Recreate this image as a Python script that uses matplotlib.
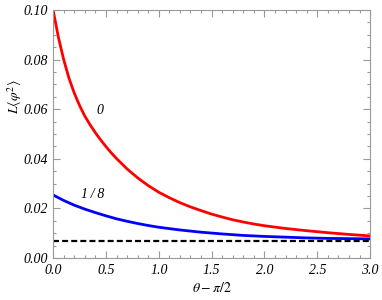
import numpy as np
import matplotlib
matplotlib.use("Agg")
import matplotlib.pyplot as plt
from matplotlib.ticker import MultipleLocator

plt.rcParams['mathtext.fontset'] = 'stix'
plt.rcParams['font.family'] = ['Liberation Serif', 'DejaVu Serif']

# curve for 0
x_red = [0.0, 0.05, 0.1, 0.15, 0.2, 0.25, 0.3, 0.35, 0.4, 0.45, 0.5, 0.55, 0.6, 0.7, 0.8, 0.9,
         1.0, 1.1, 1.2, 1.3, 1.4, 1.5, 1.6, 1.7, 1.8, 1.9, 2.0, 2.2, 2.4, 2.6, 2.8, 3.0]
y_red = [0.1000, 0.0890, 0.0800, 0.0725, 0.0665, 0.0615, 0.0572, 0.0537, 0.0505, 0.0476,
         0.0449, 0.0424, 0.0401, 0.0359, 0.0323, 0.0292, 0.0265, 0.0243, 0.0223, 0.0206,
         0.0191, 0.0177, 0.0165, 0.0154, 0.0145, 0.0137, 0.0130, 0.0119, 0.0110, 0.0102,
         0.0095, 0.0089]

# curve for 1/8
x_blue = [0.0, 0.1, 0.2, 0.3, 0.4, 0.5, 0.6, 0.7, 0.8, 0.9, 1.0, 1.2, 1.4, 1.6, 1.8,
          2.0, 2.2, 2.4, 2.6, 2.8, 3.0]
y_blue = [0.0254, 0.0232, 0.0213, 0.0197, 0.0183, 0.0170, 0.0158, 0.0148, 0.0139, 0.0131,
          0.0124, 0.0113, 0.0104, 0.0097, 0.0091, 0.0087, 0.0084, 0.0081, 0.0079, 0.0078,
          0.0077]

# asymptote
y_limit = 0.0070

labels = ['0', '1\u2009/\u20098']
label_pos = [(0.44, 0.0593), (0.374, 0.0254)]

fig = plt.figure(figsize=(3.82, 3.0), dpi=100)
ax = fig.add_axes([0.139, 0.14, 0.830, 0.827])

ax.plot(x_red, y_red, color='red', lw=2)
ax.plot(x_blue, y_blue, color='blue', lw=2)
ax.axhline(y_limit, color='black', lw=1.6, dashes=(2.7, 1.4))

for t, (px, py) in zip(labels, label_pos):
    ax.text(px, py, t, fontsize=10, style='italic', ha='center', va='center')

ax.set_xlim(0, 3.0)
ax.set_ylim(0, 0.10)
ax.xaxis.set_major_locator(MultipleLocator(0.5))
ax.xaxis.set_minor_locator(MultipleLocator(0.1))
ax.yaxis.set_major_locator(MultipleLocator(0.02))
ax.yaxis.set_minor_locator(MultipleLocator(0.005))
ax.xaxis.set_major_formatter(plt.FuncFormatter(lambda v, p: '%.1f' % v))
ax.yaxis.set_major_formatter(plt.FuncFormatter(lambda v, p: '%.2f' % v))

for s in ax.spines.values():
    s.set_color('#999999')
    s.set_linewidth(0.8)
ax.tick_params(which='both', direction='in', top=True, right=True, color='#999999',
               labelsize=10, width=0.8)
ax.tick_params(which='major', length=5, pad=4)
ax.tick_params(which='minor', length=2.5)

ax.set_xlabel(r'$\theta-\pi/2$', fontsize=10, va='center')
ax.xaxis.set_label_coords(0.5, -0.121)
ax.set_ylabel(r'$L\langle\varphi^2\rangle$', fontsize=10, va='center')
ax.yaxis.set_label_coords(-0.12, 0.65)

# tick labels in italic (set after a draw so the tick objects exist)
fig.canvas.draw()
for lab in ax.get_xticklabels() + ax.get_yticklabels():
    lab.set_fontstyle('italic')

fig.savefig('out.png', dpi=100)
